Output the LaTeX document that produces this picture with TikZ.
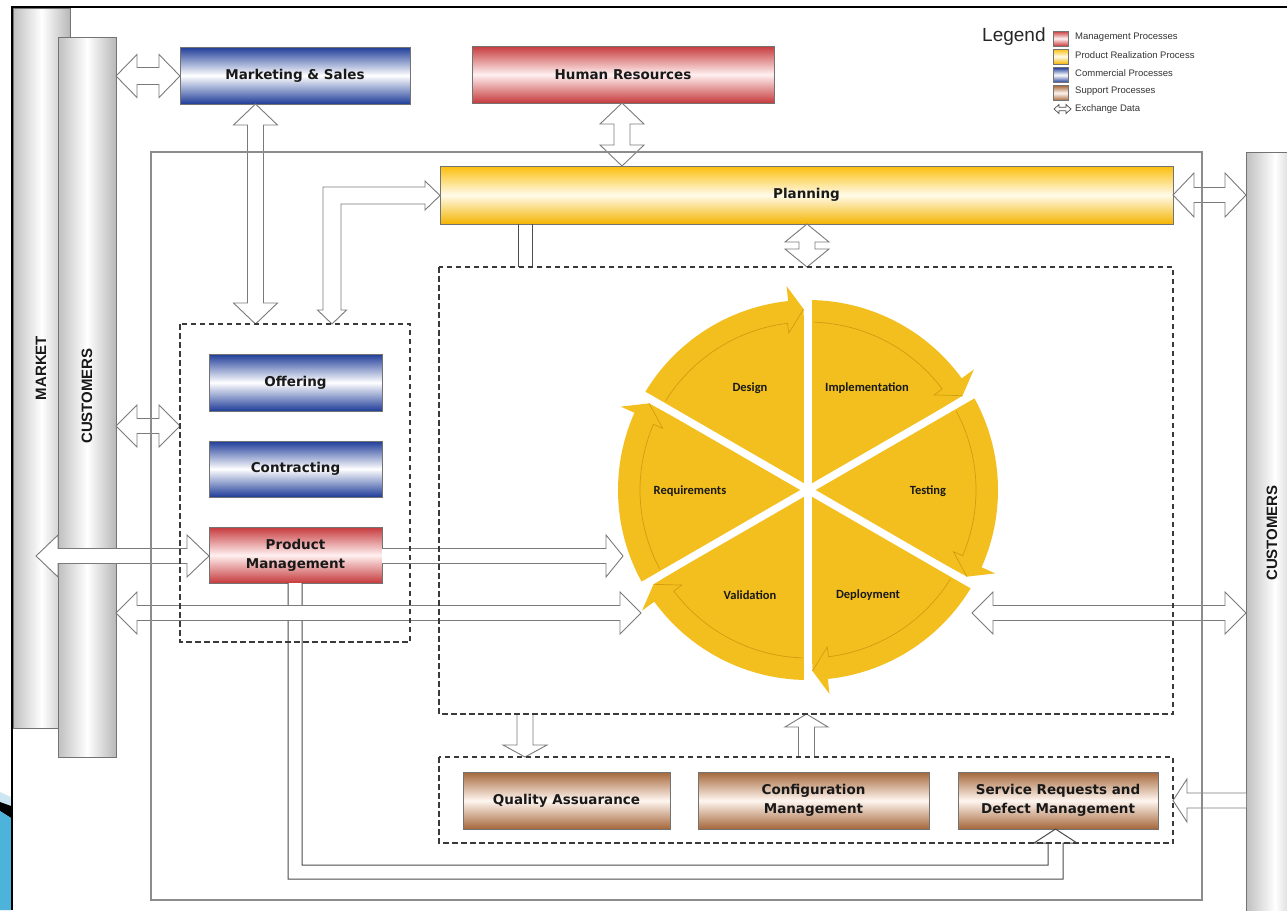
\documentclass[tikz,border=0pt]{standalone}
\usepackage{fontspec}
\setmainfont{DejaVu Sans}
\newfontfamily\arialf{Liberation Sans}
\newfontfamily\calf{Carlito}
\usetikzlibrary{calc}
\definecolor{bluedk}{HTML}{1F3D99}
\definecolor{reddk}{HTML}{C63A3C}
\definecolor{redlt}{HTML}{FFF0F0}
\definecolor{yeldk}{HTML}{FBBE0C}
\definecolor{yelbt}{HTML}{F4B400}
\definecolor{yellt}{HTML}{FFFBEA}
\definecolor{brndk}{HTML}{A5673A}
\definecolor{brnlt}{HTML}{FFF6F0}
\definecolor{cycfill}{HTML}{F2BF1E}
\definecolor{cycedge}{HTML}{D29C10}
\definecolor{lineg}{HTML}{7A7A7A}
\definecolor{dashg}{HTML}{3A3A3A}
\definecolor{sky}{HTML}{CDE7F2}
\definecolor{skydk}{HTML}{4DB3DA}
\tikzset{
 procbox/.style={draw=black!55, line width=0.8pt, inner sep=0pt, align=center, text=black!90, font=\bfseries\fontsize{13.5}{19}\selectfont},
 commerce/.style={procbox, top color=bluedk, bottom color=bluedk, middle color=white},
 manage/.style={procbox, top color=reddk, bottom color=reddk, middle color=redlt},
 realize/.style={procbox, top color=yeldk, bottom color=yelbt, middle color=yellt},
 support/.style={procbox, top color=brndk, bottom color=brndk, middle color=brnlt},
 cyl/.style={draw=black!55, line width=0.9pt, left color=black!25, right color=black!28, middle color=white, inner sep=0pt},
 cyltext/.style={rotate=90, font=\arialf\bfseries\fontsize{15}{18}\selectfont, text=black!90},
 barrow/.style={draw=lineg, fill=white, line width=0.9pt, line join=miter},
 pipe/.style={draw=black!70, fill=white, line width=1pt},
 dashbox/.style={draw=dashg, line width=2.6pt, dash pattern=on 5.5pt off 3.5pt},
 bigframe/.style={draw=black!45, line width=1.4pt},
 cyclab/.style={font=\calf\bfseries\fontsize{12.5}{14}\selectfont, text=black!90},
 legtext/.style={font=\arialf\fontsize{9.5}{10}\selectfont, text=black!80, anchor=west, inner sep=0pt},
 legbox/.style={draw=black!60, line width=0.6pt, minimum width=15pt, minimum height=15pt, inner sep=0pt},
}
% double horizontal block arrow: x1 x2 y shafthalf headhalf headlength
\newcommand\DHarrow[6]{%
\draw[barrow] (#1,#3) -- ({#1+#6},{#3-#5}) -- ({#1+#6},{#3-#4}) -- ({#2-#6},{#3-#4}) -- ({#2-#6},{#3-#5}) -- (#2,#3) -- ({#2-#6},{#3+#5}) -- ({#2-#6},{#3+#4}) -- ({#1+#6},{#3+#4}) -- ({#1+#6},{#3+#5}) -- cycle;}
% double vertical block arrow: x y1 y2 shafthalf headhalf headlength
\newcommand\DVarrow[6]{%
\draw[barrow] (#1,#2) -- ({#1+#5},{#2+#6}) -- ({#1+#4},{#2+#6}) -- ({#1+#4},{#3-#6}) -- ({#1+#5},{#3-#6}) -- (#1,#3) -- ({#1-#5},{#3-#6}) -- ({#1-#4},{#3-#6}) -- ({#1-#4},{#2+#6}) -- ({#1-#5},{#2+#6}) -- cycle;}
\begin{document}
\begin{tikzpicture}[x=1pt,y=-1pt]
\useasboundingbox (0,0) rectangle (1287,910);
\fill[white] (0,0) rectangle (1287,910);
% slide decoration
\fill[sky] (0,792) -- (11,797) -- (11,910) -- (0,910) -- cycle;
\fill[black] (0,802) -- (11,806) -- (11,818) -- (0,811) -- cycle;
\fill[skydk] (0,811) -- (11,818) -- (11,910) -- (0,910) -- cycle;
\draw[black, line width=2pt] (12,910) -- (12,7) -- (1287,7);
% cylinders
\node[cyl, minimum width=57pt, minimum height=720pt] (market) at (41.5,368) {};
\node[cyltext] (markettxt) at (41,368) {MARKET};
\node[cyl, minimum width=58pt, minimum height=720pt] (custL) at (87,397) {};
\node[cyltext] (custLtxt) at (87,396) {CUSTOMERS};
\node[cyl, minimum width=58pt, minimum height=770pt] (custR) at (1275,537) {};
\node[cyltext] (custRtxt) at (1272,533) {CUSTOMERS};
% process boxes
\node[commerce, minimum width=230pt, minimum height=57pt] (ms) at (295,75.5) {Marketing \& Sales};
\node[manage, minimum width=302pt, minimum height=57pt] (hr) at (623,74.5) {Human Resources};
\node[realize, minimum width=733pt, minimum height=58pt] (plan) at (806.5,195) {Planning};
\node[commerce, minimum width=173pt, minimum height=57pt] (off) at (295.5,382.5) {Offering};
\node[commerce, minimum width=173pt, minimum height=56pt] (con) at (295.5,469) {Contracting};
\node[manage, minimum width=173pt, minimum height=56pt] (pm) at (295.5,555) {Product\\Management};
\node[support, minimum width=207pt, minimum height=57pt] (qa) at (566.5,800.5) {Quality Assuarance};
\node[support, minimum width=231pt, minimum height=57pt] (cm) at (813.5,800.5) {Configuration\\Management};
\node[support, minimum width=200pt, minimum height=57pt] (sr) at (1058,800.5) {Service Requests and\\Defect Management};
% pipes
\draw[pipe] (288,583) -- (288,879) -- (1063,879) -- (1063,843) -- (1077,843) -- (1055.5,829) -- (1034,843) -- (1048,843) -- (1048,865) -- (302,865) -- (302,583);
\draw[pipe] (518,224) -- (518,267) (532,224) -- (532,267);
% block arrows
\DHarrow{116}{180}{76}{8.5}{21.5}{21}
\DVarrow{255.5}{104}{324}{8}{22}{21}
\DVarrow{622}{103}{166}{8}{22}{21}
\DHarrow{1173}{1246}{195}{7.5}{22}{21}
\draw[barrow] (807,224) -- (829,242) -- (815,242) -- (815,249) -- (829,249) -- (807,267) -- (785,249) -- (799,249) -- (799,242) -- (785,242) -- cycle;
\draw[barrow] (332,324) -- (346.5,310) -- (341,310) -- (341,204) -- (425,204) -- (425,210) -- (440,195.5) -- (425,181) -- (425,187) -- (323,187) -- (323,310) -- (317.5,310) -- cycle;
\DHarrow{116}{180}{426}{7.5}{21}{21}
\DHarrow{36}{209}{556}{7.5}{21}{22}
\draw[barrow] (382,548.5) -- (606,548.5) -- (606,535) -- (623,556) -- (606,577) -- (606,563.5) -- (382,563.5);
\DHarrow{116}{641}{613}{7.5}{21}{21}
\DHarrow{972}{1246}{613}{7.5}{21}{21}
\draw[barrow] (517,714) -- (517,745) -- (503,745) -- (525,757) -- (547,745) -- (533,745) -- (533,714);
\draw[barrow] (798.5,757) -- (798.5,727) -- (785,727) -- (806.5,714) -- (828,727) -- (814.5,727) -- (814.5,757);
\draw[barrow] (1246,793) -- (1187,793) -- (1187,779) -- (1173,800.5) -- (1187,822) -- (1187,808) -- (1246,808);
% frame and dashed groups
\draw[bigframe] (151,152) rectangle (1202,900);
\draw[dashbox] (180,324) rectangle (410,642);
\draw[dashbox] (439,267) rectangle (1173,714);
\draw[dashbox] (439,757) rectangle (1173,843);
% life cycle
\begin{scope}[shift={(808,490)}, yscale=-1]
\foreach \a in {150,90,30,-30,-90,-150}{
  \pgfmathsetmacro\b{\a-60}
  \fill[cycfill] (0,0) -- (\b+1.4:181) -- (\b+6:205) -- plot[domain=\b+6:\a, samples=30] (\x:190) -- cycle;
}
\foreach \a in {150,90,30,-30,-90,-150}{
  \pgfmathsetmacro\b{\a-60}
  \draw[cycedge, line width=0.7pt] (\b+1.4:181) -- (\b+7:158) -- (\b+7:168) -- plot[domain=\b+7:\a-2, samples=30] (\x:168);
}
\foreach \a in {150,90,30,-30,-90,-150}{
  \draw[white, line width=7.5pt] (0,0) -- (\a:193);
}
\end{scope}
\node[cyclab] (design) at (750,388) {Design};
\node[cyclab] (impl) at (867,388) {Implementation};
\node[cyclab] (req) at (690,491) {Requirements};
\node[cyclab] (test) at (928,491) {Testing};
\node[cyclab] (valid) at (750,595) {Validation};
\node[cyclab] (deploy) at (868,595) {Deployment};
% legend
\node[font=\arialf\fontsize{19}{22}\selectfont, anchor=west, inner sep=0pt, text=black!85] (leg) at (982,37) {Legend};
\node[legbox, manage, minimum width=15pt, minimum height=15pt] (lg1) at (1061,38.5) {};
\node[legbox, realize, minimum width=15pt, minimum height=15pt] (lg2) at (1061,56.5) {};
\node[legbox, commerce, minimum width=15pt, minimum height=15pt] (lg3) at (1061,75) {};
\node[legbox, support, minimum width=15pt, minimum height=15pt] (lg4) at (1061,93) {};
\node[legtext] (lt1) at (1075,37) {Management Processes};
\node[legtext] (lt2) at (1075,55) {Product Realization Process};
\node[legtext] (lt3) at (1075,73) {Commercial Processes};
\node[legtext] (lt4) at (1075,91) {Support Processes};
\node[legtext] (lt5) at (1075,109) {Exchange Data};
\draw[draw=black!70, fill=white, line width=0.7pt] (1054,109) -- (1059,104.5) -- (1059,107.3) -- (1066,107.3) -- (1066,104.5) -- (1071,109) -- (1066,113.5) -- (1066,110.7) -- (1059,110.7) -- (1059,113.5) -- cycle;
\end{tikzpicture}
\end{document}
